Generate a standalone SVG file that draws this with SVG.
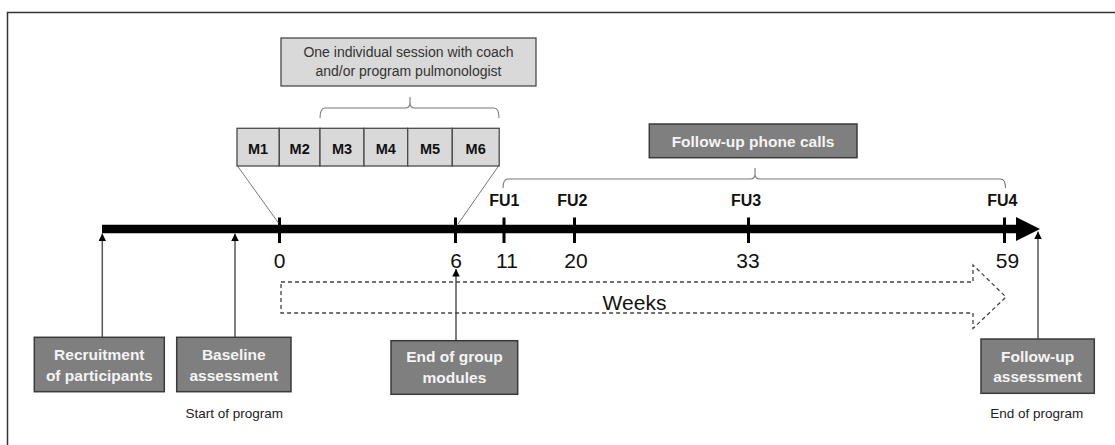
<svg xmlns="http://www.w3.org/2000/svg" width="1115" height="445" viewBox="0 0 1115 445">
<defs>
<style>
.frame{stroke:#333;stroke-width:1.5;fill:none}
.light{fill:#d9d9d9;stroke:#4a4a4a;stroke-width:1.3}
.dark{fill:#7f7f7f;stroke:#3a3a3a;stroke-width:1.5}
.t{font-family:"Liberation Sans",Arial,sans-serif;text-anchor:middle}
.lt{font-size:14px;fill:#333}
.mt{font-size:14.5px;font-weight:bold;fill:#111}
.wt{font-size:15.5px;font-weight:bold;fill:#f4f4f4}
.num{font-size:21px;fill:#111}
.fu{font-size:16px;font-weight:bold;fill:#111}
.note{font-size:13.5px;fill:#222}
.brace{fill:none;stroke:#777;stroke-width:1.1}
.thin{stroke:#777;stroke-width:1}
.tick{stroke:#000;stroke-width:3}
.up{stroke:#555;stroke-width:1.5;marker-end:url(#ah)}
.dash{fill:none;stroke:#444;stroke-width:1.3;stroke-dasharray:4 3}
</style>
<marker id="ah" viewBox="0 0 10 10" refX="10" refY="5" markerWidth="5" markerHeight="5.5" orient="auto" markerUnits="strokeWidth">
<path d="M0,0 L10,5 L0,10 Z" fill="#000"/>
</marker>
</defs>
<rect width="1115" height="445" fill="#fff"/>
<path class="frame" d="M7.5,445 V12.5 H1115"/>

<g id="connectors">
<line x1="102" y1="229" x2="1018" y2="229" stroke="#000" stroke-width="8.5"/>
<polygon points="1016,217 1040,229 1016,241" fill="#000"/>
<line class="tick" x1="279.5" y1="217.5" x2="279.5" y2="243"/>
<line class="tick" x1="455.5" y1="217.5" x2="455.5" y2="243"/>
<line class="tick" x1="504" y1="217.5" x2="504" y2="243"/>
<line class="tick" x1="574.5" y1="217.5" x2="574.5" y2="243"/>
<line class="tick" x1="748.5" y1="217.5" x2="748.5" y2="243"/>
<line class="tick" x1="1004.5" y1="217.5" x2="1004.5" y2="243"/>
<line class="thin" x1="237.5" y1="166" x2="278.5" y2="223"/>
<line class="thin" x1="498.5" y1="166" x2="458" y2="224"/>
<path class="brace" d="M320,118 Q320,108 325,108 H405 Q410,108 410,103 V97 M410,103 Q410,108 415,108 H494 Q499,108 499,118"/>
<path class="brace" d="M503,188 Q503,179 508,179 H750 Q755,179 755,174 V168 M755,174 Q755,179 760,179 H1000.5 Q1005.5,179 1005.5,188"/>
<line class="up" x1="102.3" y1="337" x2="102.3" y2="233.5"/>
<line class="up" x1="235" y1="337" x2="235" y2="233.5"/>
<line class="up" x1="456" y1="341" x2="456" y2="269"/>
<line class="up" x1="1038" y1="339" x2="1038" y2="231.5"/>
<path class="dash" d="M281,282 H973 V265 L1006,297 L973,328.5 V313 H281 Z"/>
</g>

<g id="axis-labels">
<text class="t num" x="279.5" y="267.5">0</text>
<text class="t num" x="456" y="267.5">6</text>
<text class="t num" x="507" y="267.5">11</text>
<text class="t num" x="576" y="267.5">20</text>
<text class="t num" x="748" y="267.5">33</text>
<text class="t num" x="1007.5" y="267.5">59</text>
<text class="t fu" x="504.3" y="206">FU1</text>
<text class="t fu" x="572.3" y="206">FU2</text>
<text class="t fu" x="746" y="206">FU3</text>
<text class="t fu" x="1002.3" y="206">FU4</text>
<text class="t num" x="634.5" y="309.5">Weeks</text>
</g>

<g id="session-box">
<rect class="light" x="281" y="38" width="255" height="48"/>
<text class="t lt" x="408.5" y="57">One individual session with coach</text>
<text class="t lt" x="408.5" y="76">and/or program pulmonologist</text>
</g>

<g id="modules">
<rect class="light" x="237" y="128.3" width="42.3" height="37.7"/>
<rect class="light" x="279.3" y="128.3" width="40.7" height="37.7"/>
<rect class="light" x="320" y="128.3" width="44" height="37.7"/>
<rect class="light" x="364" y="128.3" width="43.7" height="37.7"/>
<rect class="light" x="407.7" y="128.3" width="44.6" height="37.7"/>
<rect class="light" x="452.3" y="128.3" width="46.9" height="37.7"/>
<text class="t mt" x="258" y="154">M1</text>
<text class="t mt" x="299.7" y="154">M2</text>
<text class="t mt" x="342" y="154">M3</text>
<text class="t mt" x="385.8" y="154">M4</text>
<text class="t mt" x="430" y="154">M5</text>
<text class="t mt" x="475.7" y="154">M6</text>
</g>

<g id="followup-calls">
<rect class="dark" x="649.3" y="124" width="207.7" height="33.7"/>
<text class="t wt" x="753" y="146.5">Follow-up phone calls</text>
</g>

<g id="recruitment">
<rect class="dark" x="34.3" y="337.3" width="130" height="54.4"/>
<text class="t wt" x="99.3" y="360">Recruitment</text>
<text class="t wt" x="99.3" y="381">of participants</text>
</g>

<g id="baseline">
<rect class="dark" x="176.7" y="337.3" width="114.3" height="54.4"/>
<text class="t wt" x="233.8" y="360">Baseline</text>
<text class="t wt" x="233.8" y="381">assessment</text>
<text class="t note" x="234.3" y="417.5">Start of program</text>
</g>

<g id="end-group">
<rect class="dark" x="391" y="340.7" width="126.7" height="53.6"/>
<text class="t wt" x="454.4" y="362">End of group</text>
<text class="t wt" x="454.4" y="383">modules</text>
</g>

<g id="followup-assessment">
<rect class="dark" x="981" y="339" width="113.3" height="54.3"/>
<text class="t wt" x="1037.6" y="361.5">Follow-up</text>
<text class="t wt" x="1037.6" y="382">assessment</text>
<text class="t note" x="1036.7" y="417.5">End of program</text>
</g>
</svg>
